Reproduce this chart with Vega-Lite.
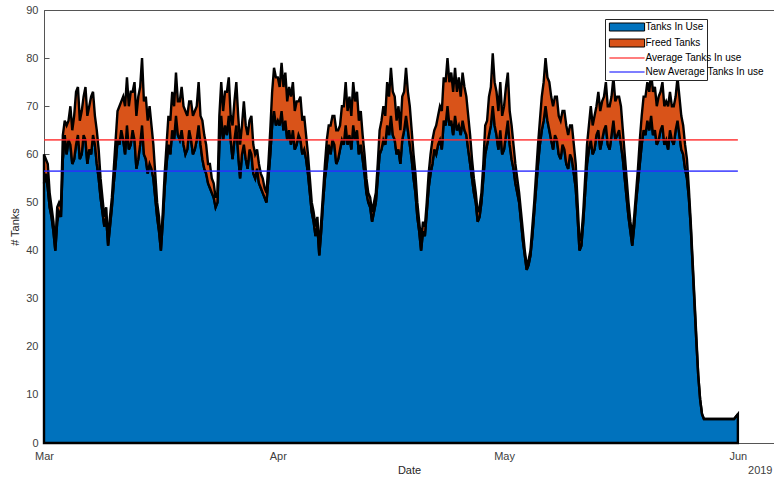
{
  "$schema": "https://vega.github.io/schema/vega-lite/v6.json",
  "width": 730,
  "height": 433,
  "autosize": "none",
  "padding": {"left": 44, "top": 10, "right": 0, "bottom": 36},
  "background": "white",
  "config": {
    "view": {"stroke": "#555555", "strokeWidth": 1},
    "font": "Liberation Sans",
    "axis": {
      "grid": false,
      "domainColor": "#555555",
      "tickColor": "#555555",
      "labelColor": "#404040",
      "titleColor": "#262626",
      "labelFontSize": 11,
      "titleFontSize": 11,
      "titleFontWeight": "normal",
      "labelFont": "Liberation Sans",
      "titleFont": "Liberation Sans",
      "tickSize": -5
    },
    "legend": {
      "labelFontSize": 10,
      "labelColor": "#000000",
      "labelFont": "Liberation Sans",
      "symbolSize": 64,
      "symbolOffset": 14,
      "labelOffset": 13.5,
      "rowPadding": 4
    }
  },
  "resolve": {
    "axis": {"x": "independent"},
    "scale": {"color": "independent"},
    "legend": {"color": "independent"}
  },
  "datasets": {
    "tanks": [
      {"t": "2019-03-01T00:00", "inuse": 54, "freed": 6},
      {"t": "2019-03-01T06:00", "inuse": 56, "freed": 3},
      {"t": "2019-03-01T12:00", "inuse": 53, "freed": 5},
      {"t": "2019-03-01T18:00", "inuse": 49, "freed": 3},
      {"t": "2019-03-02T00:00", "inuse": 47, "freed": 2},
      {"t": "2019-03-02T06:00", "inuse": 44, "freed": 2},
      {"t": "2019-03-02T12:00", "inuse": 40, "freed": 1},
      {"t": "2019-03-02T18:00", "inuse": 46, "freed": 3},
      {"t": "2019-03-03T00:00", "inuse": 48, "freed": 2},
      {"t": "2019-03-03T06:00", "inuse": 47, "freed": 2},
      {"t": "2019-03-03T12:00", "inuse": 59, "freed": 5},
      {"t": "2019-03-03T18:00", "inuse": 64, "freed": 3},
      {"t": "2019-03-04T00:00", "inuse": 60, "freed": 6},
      {"t": "2019-03-04T06:00", "inuse": 63, "freed": 4},
      {"t": "2019-03-04T12:00", "inuse": 62, "freed": 8},
      {"t": "2019-03-04T18:00", "inuse": 58, "freed": 7},
      {"t": "2019-03-05T00:00", "inuse": 59, "freed": 9},
      {"t": "2019-03-05T06:00", "inuse": 62, "freed": 11},
      {"t": "2019-03-05T12:00", "inuse": 64, "freed": 10},
      {"t": "2019-03-05T18:00", "inuse": 59, "freed": 8},
      {"t": "2019-03-06T00:00", "inuse": 60, "freed": 9},
      {"t": "2019-03-06T06:00", "inuse": 64, "freed": 8},
      {"t": "2019-03-06T12:00", "inuse": 63, "freed": 11},
      {"t": "2019-03-06T18:00", "inuse": 58, "freed": 10},
      {"t": "2019-03-07T00:00", "inuse": 61, "freed": 9},
      {"t": "2019-03-07T06:00", "inuse": 60, "freed": 12},
      {"t": "2019-03-07T12:00", "inuse": 64, "freed": 9},
      {"t": "2019-03-07T18:00", "inuse": 62, "freed": 6},
      {"t": "2019-03-08T00:00", "inuse": 58, "freed": 7},
      {"t": "2019-03-08T06:00", "inuse": 55, "freed": 6},
      {"t": "2019-03-08T12:00", "inuse": 51, "freed": 4},
      {"t": "2019-03-08T18:00", "inuse": 48, "freed": 3},
      {"t": "2019-03-09T00:00", "inuse": 45, "freed": 2},
      {"t": "2019-03-09T06:00", "inuse": 47, "freed": 2},
      {"t": "2019-03-09T12:00", "inuse": 41, "freed": 1},
      {"t": "2019-03-09T18:00", "inuse": 45, "freed": 2},
      {"t": "2019-03-10T00:00", "inuse": 49, "freed": 2},
      {"t": "2019-03-10T06:00", "inuse": 54, "freed": 3},
      {"t": "2019-03-10T12:00", "inuse": 58, "freed": 5},
      {"t": "2019-03-10T18:00", "inuse": 63, "freed": 6},
      {"t": "2019-03-11T00:00", "inuse": 62, "freed": 8},
      {"t": "2019-03-11T06:00", "inuse": 65, "freed": 6},
      {"t": "2019-03-11T12:00", "inuse": 63, "freed": 9},
      {"t": "2019-03-11T18:00", "inuse": 60, "freed": 10},
      {"t": "2019-03-12T00:00", "inuse": 66, "freed": 10},
      {"t": "2019-03-12T06:00", "inuse": 61, "freed": 9},
      {"t": "2019-03-12T12:00", "inuse": 62, "freed": 11},
      {"t": "2019-03-12T18:00", "inuse": 65, "freed": 8},
      {"t": "2019-03-13T00:00", "inuse": 63, "freed": 12},
      {"t": "2019-03-13T06:00", "inuse": 57, "freed": 11},
      {"t": "2019-03-13T12:00", "inuse": 59, "freed": 13},
      {"t": "2019-03-13T18:00", "inuse": 62, "freed": 12},
      {"t": "2019-03-14T00:00", "inuse": 66, "freed": 14},
      {"t": "2019-03-14T06:00", "inuse": 60, "freed": 11},
      {"t": "2019-03-14T12:00", "inuse": 59, "freed": 13},
      {"t": "2019-03-14T18:00", "inuse": 56, "freed": 11},
      {"t": "2019-03-15T00:00", "inuse": 58, "freed": 12},
      {"t": "2019-03-15T06:00", "inuse": 57, "freed": 9},
      {"t": "2019-03-15T12:00", "inuse": 55, "freed": 7},
      {"t": "2019-03-15T18:00", "inuse": 51, "freed": 5},
      {"t": "2019-03-16T00:00", "inuse": 47, "freed": 3},
      {"t": "2019-03-16T06:00", "inuse": 44, "freed": 3},
      {"t": "2019-03-16T12:00", "inuse": 40, "freed": 1},
      {"t": "2019-03-16T18:00", "inuse": 46, "freed": 2},
      {"t": "2019-03-17T00:00", "inuse": 53, "freed": 3},
      {"t": "2019-03-17T06:00", "inuse": 58, "freed": 4},
      {"t": "2019-03-17T12:00", "inuse": 62, "freed": 6},
      {"t": "2019-03-17T18:00", "inuse": 60, "freed": 7},
      {"t": "2019-03-18T00:00", "inuse": 65, "freed": 8},
      {"t": "2019-03-18T06:00", "inuse": 63, "freed": 7},
      {"t": "2019-03-18T12:00", "inuse": 68, "freed": 9},
      {"t": "2019-03-18T18:00", "inuse": 64, "freed": 7},
      {"t": "2019-03-19T00:00", "inuse": 63, "freed": 8},
      {"t": "2019-03-19T06:00", "inuse": 65, "freed": 9},
      {"t": "2019-03-19T12:00", "inuse": 62, "freed": 8},
      {"t": "2019-03-19T18:00", "inuse": 60, "freed": 9},
      {"t": "2019-03-20T00:00", "inuse": 61, "freed": 7},
      {"t": "2019-03-20T06:00", "inuse": 65, "freed": 6},
      {"t": "2019-03-20T12:00", "inuse": 63, "freed": 8},
      {"t": "2019-03-20T18:00", "inuse": 60, "freed": 8},
      {"t": "2019-03-21T00:00", "inuse": 61, "freed": 8},
      {"t": "2019-03-21T06:00", "inuse": 63, "freed": 7},
      {"t": "2019-03-21T12:00", "inuse": 66, "freed": 9},
      {"t": "2019-03-21T18:00", "inuse": 62, "freed": 6},
      {"t": "2019-03-22T00:00", "inuse": 59, "freed": 8},
      {"t": "2019-03-22T06:00", "inuse": 57, "freed": 7},
      {"t": "2019-03-22T12:00", "inuse": 56, "freed": 6},
      {"t": "2019-03-22T18:00", "inuse": 54, "freed": 4},
      {"t": "2019-03-23T00:00", "inuse": 53, "freed": 5},
      {"t": "2019-03-23T06:00", "inuse": 52, "freed": 3},
      {"t": "2019-03-23T12:00", "inuse": 51, "freed": 3},
      {"t": "2019-03-23T18:00", "inuse": 49, "freed": 2},
      {"t": "2019-03-24T00:00", "inuse": 50, "freed": 2},
      {"t": "2019-03-24T06:00", "inuse": 62, "freed": 6},
      {"t": "2019-03-24T12:00", "inuse": 68, "freed": 7},
      {"t": "2019-03-24T18:00", "inuse": 63, "freed": 6},
      {"t": "2019-03-25T00:00", "inuse": 66, "freed": 7},
      {"t": "2019-03-25T06:00", "inuse": 64, "freed": 9},
      {"t": "2019-03-25T12:00", "inuse": 68, "freed": 8},
      {"t": "2019-03-25T18:00", "inuse": 63, "freed": 5},
      {"t": "2019-03-26T00:00", "inuse": 59, "freed": 7},
      {"t": "2019-03-26T06:00", "inuse": 63, "freed": 8},
      {"t": "2019-03-26T12:00", "inuse": 66, "freed": 9},
      {"t": "2019-03-26T18:00", "inuse": 60, "freed": 8},
      {"t": "2019-03-27T00:00", "inuse": 55, "freed": 7},
      {"t": "2019-03-27T06:00", "inuse": 60, "freed": 6},
      {"t": "2019-03-27T12:00", "inuse": 62, "freed": 9},
      {"t": "2019-03-27T18:00", "inuse": 59, "freed": 7},
      {"t": "2019-03-28T00:00", "inuse": 57, "freed": 7},
      {"t": "2019-03-28T06:00", "inuse": 61, "freed": 6},
      {"t": "2019-03-28T12:00", "inuse": 60, "freed": 8},
      {"t": "2019-03-28T18:00", "inuse": 56, "freed": 6},
      {"t": "2019-03-29T00:00", "inuse": 55, "freed": 5},
      {"t": "2019-03-29T06:00", "inuse": 57, "freed": 4},
      {"t": "2019-03-29T12:00", "inuse": 54, "freed": 4},
      {"t": "2019-03-29T18:00", "inuse": 53, "freed": 3},
      {"t": "2019-03-30T00:00", "inuse": 52, "freed": 3},
      {"t": "2019-03-30T06:00", "inuse": 51, "freed": 2},
      {"t": "2019-03-30T12:00", "inuse": 50, "freed": 2},
      {"t": "2019-03-30T18:00", "inuse": 55, "freed": 3},
      {"t": "2019-03-31T00:00", "inuse": 60, "freed": 5},
      {"t": "2019-03-31T06:00", "inuse": 66, "freed": 7},
      {"t": "2019-03-31T12:00", "inuse": 69, "freed": 9},
      {"t": "2019-03-31T18:00", "inuse": 66, "freed": 10},
      {"t": "2019-04-01T00:00", "inuse": 67, "freed": 9},
      {"t": "2019-04-01T06:00", "inuse": 66, "freed": 8},
      {"t": "2019-04-01T12:00", "inuse": 69, "freed": 10},
      {"t": "2019-04-01T18:00", "inuse": 65, "freed": 9},
      {"t": "2019-04-02T00:00", "inuse": 67, "freed": 10},
      {"t": "2019-04-02T06:00", "inuse": 63, "freed": 8},
      {"t": "2019-04-02T12:00", "inuse": 65, "freed": 9},
      {"t": "2019-04-02T18:00", "inuse": 62, "freed": 10},
      {"t": "2019-04-03T00:00", "inuse": 65, "freed": 10},
      {"t": "2019-04-03T06:00", "inuse": 61, "freed": 8},
      {"t": "2019-04-03T12:00", "inuse": 62, "freed": 9},
      {"t": "2019-04-03T18:00", "inuse": 64, "freed": 7},
      {"t": "2019-04-04T00:00", "inuse": 63, "freed": 9},
      {"t": "2019-04-04T06:00", "inuse": 60, "freed": 7},
      {"t": "2019-04-04T12:00", "inuse": 61, "freed": 7},
      {"t": "2019-04-04T18:00", "inuse": 59, "freed": 5},
      {"t": "2019-04-05T00:00", "inuse": 56, "freed": 4},
      {"t": "2019-04-05T06:00", "inuse": 52, "freed": 3},
      {"t": "2019-04-05T12:00", "inuse": 48, "freed": 2},
      {"t": "2019-04-05T18:00", "inuse": 46, "freed": 2},
      {"t": "2019-04-06T00:00", "inuse": 43, "freed": 2},
      {"t": "2019-04-06T06:00", "inuse": 45, "freed": 2},
      {"t": "2019-04-06T12:00", "inuse": 39, "freed": 1},
      {"t": "2019-04-06T18:00", "inuse": 44, "freed": 2},
      {"t": "2019-04-07T00:00", "inuse": 50, "freed": 2},
      {"t": "2019-04-07T06:00", "inuse": 55, "freed": 3},
      {"t": "2019-04-07T12:00", "inuse": 58, "freed": 5},
      {"t": "2019-04-07T18:00", "inuse": 62, "freed": 4},
      {"t": "2019-04-08T00:00", "inuse": 60, "freed": 6},
      {"t": "2019-04-08T06:00", "inuse": 63, "freed": 5},
      {"t": "2019-04-08T12:00", "inuse": 62, "freed": 6},
      {"t": "2019-04-08T18:00", "inuse": 58, "freed": 7},
      {"t": "2019-04-09T00:00", "inuse": 59, "freed": 6},
      {"t": "2019-04-09T06:00", "inuse": 61, "freed": 5},
      {"t": "2019-04-09T12:00", "inuse": 63, "freed": 7},
      {"t": "2019-04-09T18:00", "inuse": 62, "freed": 8},
      {"t": "2019-04-10T00:00", "inuse": 66, "freed": 9},
      {"t": "2019-04-10T06:00", "inuse": 62, "freed": 7},
      {"t": "2019-04-10T12:00", "inuse": 64, "freed": 8},
      {"t": "2019-04-10T18:00", "inuse": 61, "freed": 7},
      {"t": "2019-04-11T00:00", "inuse": 66, "freed": 9},
      {"t": "2019-04-11T06:00", "inuse": 63, "freed": 8},
      {"t": "2019-04-11T12:00", "inuse": 65, "freed": 8},
      {"t": "2019-04-11T18:00", "inuse": 60, "freed": 7},
      {"t": "2019-04-12T00:00", "inuse": 62, "freed": 7},
      {"t": "2019-04-12T06:00", "inuse": 59, "freed": 5},
      {"t": "2019-04-12T12:00", "inuse": 56, "freed": 4},
      {"t": "2019-04-12T18:00", "inuse": 52, "freed": 3},
      {"t": "2019-04-13T00:00", "inuse": 50, "freed": 2},
      {"t": "2019-04-13T06:00", "inuse": 49, "freed": 2},
      {"t": "2019-04-13T12:00", "inuse": 46, "freed": 2},
      {"t": "2019-04-13T18:00", "inuse": 48, "freed": 2},
      {"t": "2019-04-14T00:00", "inuse": 50, "freed": 2},
      {"t": "2019-04-14T06:00", "inuse": 55, "freed": 3},
      {"t": "2019-04-14T12:00", "inuse": 60, "freed": 5},
      {"t": "2019-04-14T18:00", "inuse": 61, "freed": 6},
      {"t": "2019-04-15T00:00", "inuse": 63, "freed": 7},
      {"t": "2019-04-15T06:00", "inuse": 62, "freed": 6},
      {"t": "2019-04-15T12:00", "inuse": 66, "freed": 9},
      {"t": "2019-04-15T18:00", "inuse": 64, "freed": 8},
      {"t": "2019-04-16T00:00", "inuse": 68, "freed": 10},
      {"t": "2019-04-16T06:00", "inuse": 64, "freed": 9},
      {"t": "2019-04-16T12:00", "inuse": 63, "freed": 9},
      {"t": "2019-04-16T18:00", "inuse": 60, "freed": 7},
      {"t": "2019-04-17T00:00", "inuse": 61, "freed": 9},
      {"t": "2019-04-17T06:00", "inuse": 58, "freed": 7},
      {"t": "2019-04-17T12:00", "inuse": 63, "freed": 9},
      {"t": "2019-04-17T18:00", "inuse": 65, "freed": 8},
      {"t": "2019-04-18T00:00", "inuse": 68, "freed": 10},
      {"t": "2019-04-18T06:00", "inuse": 65, "freed": 8},
      {"t": "2019-04-18T12:00", "inuse": 62, "freed": 8},
      {"t": "2019-04-18T18:00", "inuse": 59, "freed": 6},
      {"t": "2019-04-19T00:00", "inuse": 55, "freed": 5},
      {"t": "2019-04-19T06:00", "inuse": 52, "freed": 4},
      {"t": "2019-04-19T12:00", "inuse": 47, "freed": 3},
      {"t": "2019-04-19T18:00", "inuse": 44, "freed": 2},
      {"t": "2019-04-20T00:00", "inuse": 40, "freed": 2},
      {"t": "2019-04-20T06:00", "inuse": 44, "freed": 2},
      {"t": "2019-04-20T12:00", "inuse": 43, "freed": 2},
      {"t": "2019-04-20T18:00", "inuse": 48, "freed": 2},
      {"t": "2019-04-21T00:00", "inuse": 53, "freed": 3},
      {"t": "2019-04-21T06:00", "inuse": 56, "freed": 4},
      {"t": "2019-04-21T12:00", "inuse": 58, "freed": 5},
      {"t": "2019-04-21T18:00", "inuse": 61, "freed": 4},
      {"t": "2019-04-22T00:00", "inuse": 60, "freed": 6},
      {"t": "2019-04-22T06:00", "inuse": 62, "freed": 6},
      {"t": "2019-04-22T12:00", "inuse": 63, "freed": 7},
      {"t": "2019-04-22T18:00", "inuse": 61, "freed": 8},
      {"t": "2019-04-23T00:00", "inuse": 67, "freed": 9},
      {"t": "2019-04-23T06:00", "inuse": 66, "freed": 9},
      {"t": "2019-04-23T12:00", "inuse": 70, "freed": 10},
      {"t": "2019-04-23T18:00", "inuse": 66, "freed": 9},
      {"t": "2019-04-24T00:00", "inuse": 67, "freed": 10},
      {"t": "2019-04-24T06:00", "inuse": 64, "freed": 9},
      {"t": "2019-04-24T12:00", "inuse": 68, "freed": 10},
      {"t": "2019-04-24T18:00", "inuse": 65, "freed": 8},
      {"t": "2019-04-25T00:00", "inuse": 66, "freed": 10},
      {"t": "2019-04-25T06:00", "inuse": 64, "freed": 8},
      {"t": "2019-04-25T12:00", "inuse": 67, "freed": 10},
      {"t": "2019-04-25T18:00", "inuse": 65, "freed": 9},
      {"t": "2019-04-26T00:00", "inuse": 64, "freed": 8},
      {"t": "2019-04-26T06:00", "inuse": 61, "freed": 7},
      {"t": "2019-04-26T12:00", "inuse": 58, "freed": 6},
      {"t": "2019-04-26T18:00", "inuse": 55, "freed": 4},
      {"t": "2019-04-27T00:00", "inuse": 52, "freed": 3},
      {"t": "2019-04-27T06:00", "inuse": 50, "freed": 2},
      {"t": "2019-04-27T12:00", "inuse": 46, "freed": 2},
      {"t": "2019-04-27T18:00", "inuse": 47, "freed": 2},
      {"t": "2019-04-28T00:00", "inuse": 50, "freed": 2},
      {"t": "2019-04-28T06:00", "inuse": 55, "freed": 3},
      {"t": "2019-04-28T12:00", "inuse": 60, "freed": 6},
      {"t": "2019-04-28T18:00", "inuse": 62, "freed": 5},
      {"t": "2019-04-29T00:00", "inuse": 64, "freed": 8},
      {"t": "2019-04-29T06:00", "inuse": 66, "freed": 8},
      {"t": "2019-04-29T12:00", "inuse": 70, "freed": 11},
      {"t": "2019-04-29T18:00", "inuse": 66, "freed": 9},
      {"t": "2019-04-30T00:00", "inuse": 64, "freed": 9},
      {"t": "2019-04-30T06:00", "inuse": 61, "freed": 8},
      {"t": "2019-04-30T12:00", "inuse": 65, "freed": 10},
      {"t": "2019-04-30T18:00", "inuse": 60, "freed": 8},
      {"t": "2019-05-01T00:00", "inuse": 61, "freed": 9},
      {"t": "2019-05-01T06:00", "inuse": 64, "freed": 10},
      {"t": "2019-05-01T12:00", "inuse": 67, "freed": 10},
      {"t": "2019-05-01T18:00", "inuse": 62, "freed": 7},
      {"t": "2019-05-02T00:00", "inuse": 59, "freed": 7},
      {"t": "2019-05-02T06:00", "inuse": 57, "freed": 5},
      {"t": "2019-05-02T12:00", "inuse": 54, "freed": 4},
      {"t": "2019-05-02T18:00", "inuse": 52, "freed": 3},
      {"t": "2019-05-03T00:00", "inuse": 50, "freed": 2},
      {"t": "2019-05-03T06:00", "inuse": 46, "freed": 2},
      {"t": "2019-05-03T12:00", "inuse": 42, "freed": 2},
      {"t": "2019-05-03T18:00", "inuse": 39, "freed": 1},
      {"t": "2019-05-04T00:00", "inuse": 36, "freed": 1},
      {"t": "2019-05-04T06:00", "inuse": 37, "freed": 1},
      {"t": "2019-05-04T12:00", "inuse": 39, "freed": 1},
      {"t": "2019-05-04T18:00", "inuse": 43, "freed": 2},
      {"t": "2019-05-05T00:00", "inuse": 48, "freed": 2},
      {"t": "2019-05-05T06:00", "inuse": 53, "freed": 3},
      {"t": "2019-05-05T12:00", "inuse": 58, "freed": 4},
      {"t": "2019-05-05T18:00", "inuse": 62, "freed": 5},
      {"t": "2019-05-06T00:00", "inuse": 65, "freed": 7},
      {"t": "2019-05-06T06:00", "inuse": 67, "freed": 8},
      {"t": "2019-05-06T12:00", "inuse": 70, "freed": 10},
      {"t": "2019-05-06T18:00", "inuse": 67, "freed": 9},
      {"t": "2019-05-07T00:00", "inuse": 65, "freed": 10},
      {"t": "2019-05-07T06:00", "inuse": 63, "freed": 9},
      {"t": "2019-05-07T12:00", "inuse": 61, "freed": 9},
      {"t": "2019-05-07T18:00", "inuse": 64, "freed": 8},
      {"t": "2019-05-08T00:00", "inuse": 63, "freed": 9},
      {"t": "2019-05-08T06:00", "inuse": 60, "freed": 8},
      {"t": "2019-05-08T12:00", "inuse": 59, "freed": 8},
      {"t": "2019-05-08T18:00", "inuse": 62, "freed": 7},
      {"t": "2019-05-09T00:00", "inuse": 61, "freed": 8},
      {"t": "2019-05-09T06:00", "inuse": 58, "freed": 8},
      {"t": "2019-05-09T12:00", "inuse": 57, "freed": 7},
      {"t": "2019-05-09T18:00", "inuse": 60, "freed": 6},
      {"t": "2019-05-10T00:00", "inuse": 59, "freed": 7},
      {"t": "2019-05-10T06:00", "inuse": 56, "freed": 6},
      {"t": "2019-05-10T12:00", "inuse": 53, "freed": 5},
      {"t": "2019-05-10T18:00", "inuse": 47, "freed": 3},
      {"t": "2019-05-11T00:00", "inuse": 40, "freed": 2},
      {"t": "2019-05-11T06:00", "inuse": 41, "freed": 2},
      {"t": "2019-05-11T12:00", "inuse": 46, "freed": 2},
      {"t": "2019-05-11T18:00", "inuse": 52, "freed": 3},
      {"t": "2019-05-12T00:00", "inuse": 58, "freed": 4},
      {"t": "2019-05-12T06:00", "inuse": 61, "freed": 5},
      {"t": "2019-05-12T12:00", "inuse": 63, "freed": 7},
      {"t": "2019-05-12T18:00", "inuse": 60, "freed": 6},
      {"t": "2019-05-13T00:00", "inuse": 61, "freed": 7},
      {"t": "2019-05-13T06:00", "inuse": 64, "freed": 6},
      {"t": "2019-05-13T12:00", "inuse": 65, "freed": 8},
      {"t": "2019-05-13T18:00", "inuse": 61, "freed": 8},
      {"t": "2019-05-14T00:00", "inuse": 63, "freed": 8},
      {"t": "2019-05-14T06:00", "inuse": 65, "freed": 7},
      {"t": "2019-05-14T12:00", "inuse": 66, "freed": 9},
      {"t": "2019-05-14T18:00", "inuse": 62, "freed": 8},
      {"t": "2019-05-15T00:00", "inuse": 61, "freed": 9},
      {"t": "2019-05-15T06:00", "inuse": 64, "freed": 8},
      {"t": "2019-05-15T12:00", "inuse": 67, "freed": 9},
      {"t": "2019-05-15T18:00", "inuse": 63, "freed": 8},
      {"t": "2019-05-16T00:00", "inuse": 64, "freed": 8},
      {"t": "2019-05-16T06:00", "inuse": 65, "freed": 7},
      {"t": "2019-05-16T12:00", "inuse": 62, "freed": 8},
      {"t": "2019-05-16T18:00", "inuse": 59, "freed": 6},
      {"t": "2019-05-17T00:00", "inuse": 55, "freed": 5},
      {"t": "2019-05-17T06:00", "inuse": 51, "freed": 4},
      {"t": "2019-05-17T12:00", "inuse": 47, "freed": 3},
      {"t": "2019-05-17T18:00", "inuse": 44, "freed": 2},
      {"t": "2019-05-18T00:00", "inuse": 41, "freed": 2},
      {"t": "2019-05-18T06:00", "inuse": 45, "freed": 2},
      {"t": "2019-05-18T12:00", "inuse": 50, "freed": 2},
      {"t": "2019-05-18T18:00", "inuse": 54, "freed": 3},
      {"t": "2019-05-19T00:00", "inuse": 58, "freed": 5},
      {"t": "2019-05-19T06:00", "inuse": 62, "freed": 6},
      {"t": "2019-05-19T12:00", "inuse": 65, "freed": 7},
      {"t": "2019-05-19T18:00", "inuse": 64, "freed": 8},
      {"t": "2019-05-20T00:00", "inuse": 67, "freed": 8},
      {"t": "2019-05-20T06:00", "inuse": 65, "freed": 8},
      {"t": "2019-05-20T12:00", "inuse": 68, "freed": 9},
      {"t": "2019-05-20T18:00", "inuse": 64, "freed": 9},
      {"t": "2019-05-21T00:00", "inuse": 65, "freed": 9},
      {"t": "2019-05-21T06:00", "inuse": 62, "freed": 8},
      {"t": "2019-05-21T12:00", "inuse": 63, "freed": 9},
      {"t": "2019-05-21T18:00", "inuse": 65, "freed": 8},
      {"t": "2019-05-22T00:00", "inuse": 66, "freed": 9},
      {"t": "2019-05-22T06:00", "inuse": 62, "freed": 8},
      {"t": "2019-05-22T12:00", "inuse": 63, "freed": 8},
      {"t": "2019-05-22T18:00", "inuse": 61, "freed": 9},
      {"t": "2019-05-23T00:00", "inuse": 65, "freed": 8},
      {"t": "2019-05-23T06:00", "inuse": 63, "freed": 7},
      {"t": "2019-05-23T12:00", "inuse": 62, "freed": 8},
      {"t": "2019-05-23T18:00", "inuse": 65, "freed": 7},
      {"t": "2019-05-24T00:00", "inuse": 67, "freed": 9},
      {"t": "2019-05-24T06:00", "inuse": 64, "freed": 8},
      {"t": "2019-05-24T12:00", "inuse": 61, "freed": 7},
      {"t": "2019-05-24T18:00", "inuse": 60, "freed": 6},
      {"t": "2019-05-25T00:00", "inuse": 57, "freed": 5},
      {"t": "2019-05-25T06:00", "inuse": 55, "freed": 4},
      {"t": "2019-05-25T12:00", "inuse": 51, "freed": 2},
      {"t": "2019-05-25T18:00", "inuse": 45, "freed": 1},
      {"t": "2019-05-26T00:00", "inuse": 37, "freed": 1},
      {"t": "2019-05-26T06:00", "inuse": 29, "freed": 1},
      {"t": "2019-05-26T12:00", "inuse": 21, "freed": 1},
      {"t": "2019-05-26T18:00", "inuse": 14, "freed": 0},
      {"t": "2019-05-27T00:00", "inuse": 9, "freed": 0},
      {"t": "2019-05-27T06:00", "inuse": 6, "freed": 0},
      {"t": "2019-05-27T12:00", "inuse": 5, "freed": 0},
      {"t": "2019-05-28T00:00", "inuse": 5, "freed": 0},
      {"t": "2019-05-28T12:00", "inuse": 5, "freed": 0},
      {"t": "2019-05-29T00:00", "inuse": 5, "freed": 0},
      {"t": "2019-05-29T12:00", "inuse": 5, "freed": 0},
      {"t": "2019-05-30T00:00", "inuse": 5, "freed": 0},
      {"t": "2019-05-30T12:00", "inuse": 5, "freed": 0},
      {"t": "2019-05-31T00:00", "inuse": 5, "freed": 0},
      {"t": "2019-05-31T12:00", "inuse": 5, "freed": 0},
      {"t": "2019-06-01T00:00", "inuse": 6, "freed": 0}
    ],
    "averages": [
      {"series": "avg", "start": "2019-03-01T00:00", "end": "2019-06-01T00:00", "level": 63.0},
      {"series": "newavg", "start": "2019-03-01T00:00", "end": "2019-06-01T00:00", "level": 56.5}
    ]
  },
  "layer": [
    {
      "data": {"name": "tanks"},
      "transform": [{"fold": ["inuse", "freed"], "as": ["series", "tanks"]}],
      "mark": {"type": "area", "stroke": "#000000", "strokeWidth": 2.4, "interpolate": "linear"},
      "encoding": {
        "x": {
          "field": "t",
          "type": "temporal",
          "scale": {"domain": [{"year": 2019, "month": 3, "date": 1}, {"year": 2019, "month": 6, "date": 5, "hours": 19}], "nice": false},
          "axis": {
            "orient": "bottom",
            "format": "%b",
            "tickCount": {"interval": "month", "step": 1},
            "labelFlush": false,
            "labelOverlap": false,
            "labelPadding": 12,
            "labelBaseline": "top",
            "title": "Date",
            "titleY": 27,
            "titleBaseline": "middle"
          }
        },
        "y": {
          "field": "tanks",
          "type": "quantitative",
          "stack": "zero",
          "scale": {"domain": [0, 90], "nice": false},
          "axis": {
            "values": [0, 10, 20, 30, 40, 50, 60, 70, 80, 90],
            "labelPadding": 11,
            "title": "# Tanks",
            "titleX": -29,
            "titleBaseline": "middle"
          }
        },
        "order": {"field": "series", "sort": "descending"},
        "color": {
          "field": "series",
          "type": "nominal",
          "scale": {"domain": ["inuse", "freed"], "range": ["#0072BD", "#D95319"]},
          "legend": {
            "title": [".", "."],
            "titleOrient": "bottom",
            "titleFontSize": 10,
            "titleLineHeight": 14.5,
            "titleColor": "transparent",
            "titlePadding": 3,
            "orient": "none",
            "legendX": 561,
            "legendY": 9,
            "padding": 3,
            "strokeColor": "#262626",
            "fillColor": "white",
            "zindex": 1,
            "symbolType": "M-4.4,-1H4.4V1H-4.4Z",
            "symbolStrokeColor": "#000000",
            "symbolStrokeWidth": 1,
            "symbolOpacity": 1,
            "labelExpr": "datum.value == 'inuse' ? 'Tanks In Use' : 'Freed Tanks'"
          }
        }
      }
    },
    {
      "data": {"name": "averages"},
      "mark": {"type": "rule", "strokeWidth": 1.6, "opacity": 0.8},
      "encoding": {
        "x": {
          "field": "start",
          "type": "temporal",
          "axis": {
            "orient": "bottom",
            "title": "2019",
            "labels": false,
            "ticks": false,
            "domain": false,
            "titleX": 728,
            "titleY": 27,
            "titleAlign": "right",
            "titleAnchor": "start",
            "titleBaseline": "middle",
            "titleColor": "#404040"
          }
        },
        "x2": {"field": "end"},
        "y": {"field": "level", "type": "quantitative"},
        "color": {
          "field": "series",
          "type": "nominal",
          "scale": {"domain": ["avg", "newavg"], "range": ["#ff2a2a", "#2a2aff"]},
          "legend": {
            "title": null,
            "orient": "none",
            "legendX": 564,
            "legendY": 43,
            "padding": 0,
            "zindex": 2,
            "symbolType": "M-4.4,0H4.4",
            "symbolStrokeWidth": 1.5,
            "symbolFillColor": "transparent",
            "symbolOpacity": 0.8,
            "labelExpr": "datum.value == 'avg' ? 'Average Tanks In use' : 'New Average Tanks In use'"
          }
        }
      }
    }
  ]
}
